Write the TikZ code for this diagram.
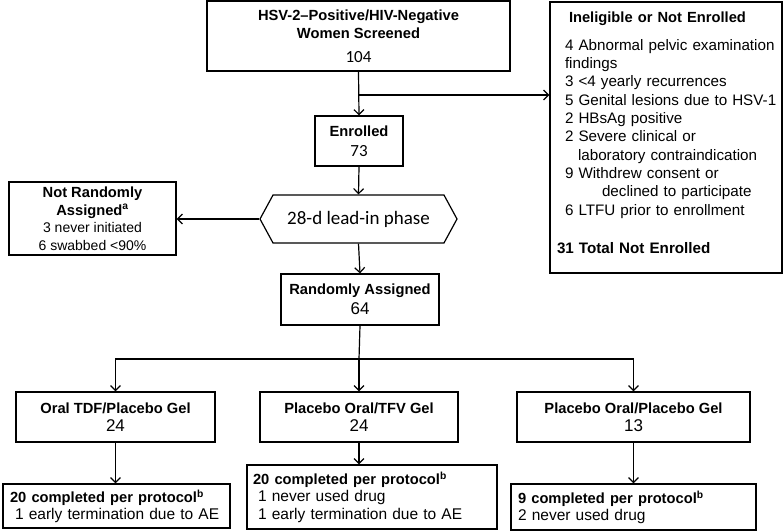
\documentclass[tikz,border=0pt]{standalone}
\usepackage{fontspec}
\setmainfont{Liberation Sans}
\newfontfamily\calib{Carlito}
\usetikzlibrary{calc, shapes.symbols, arrows.meta}

\newcommand{\ttlsize}{\fontsize{14.7}{18}\selectfont}
\newcommand{\numsize}{\fontsize{17}{18}\selectfont}

\tikzset{
	box/.style={draw, line width=1.2pt, inner xsep=7pt, inner ysep=0pt, align=center, font=\ttlsize},
	flow/.style={line width=1.2pt, -{Straight Barb[length=5pt, width=10pt]}},
	plain/.style={line width=1.2pt},
}

\begin{document}
\begin{tikzpicture}[x=1pt, y=-1pt]
	\useasboundingbox (0,0) rectangle (784,532);
	
	\node [box, minimum width=303pt, minimum height=70pt] (screen) at (358.5,36)
		{\textbf{HSV-2–Positive/HIV-Negative}\\\textbf{Women Screened}\\[6pt]{\calib\numsize 104}};
	\node [box, minimum width=88pt, minimum height=50pt] (enrol) at (359,141)
		{\textbf{Enrolled}\\[2pt]{\calib\numsize 73}};
	\node [box, minimum width=232pt, minimum height=271pt, text width=228pt, inner xsep=2pt, align=left,
		font=\fontsize{15.2}{18.3}\selectfont] (inelig) at (666,137.5)
		{\hspace*{17pt}{\ttlsize\bfseries Ineligible or Not Enrolled}\\[10pt]
		\hspace*{13pt}4 Abnormal pelvic examination\\
		\hspace*{13pt}findings\\
		\hspace*{13pt}3 <4 yearly recurrences\\
		\hspace*{13pt}5 Genital lesions due to HSV-1\\
		\hspace*{13pt}2 HBsAg positive\\
		\hspace*{13pt}2 Severe clinical or\\
		\hspace*{26pt}laboratory contraindication\\
		\hspace*{13pt}9 Withdrew consent or\\
		\hspace*{50pt}declined to participate\\
		\hspace*{13pt}6 LTFU prior to enrollment\\[20pt]
		\hspace*{5pt}\textbf{31 Total Not Enrolled}\\[-8pt]\mbox{}};
	
	\node [draw, line width=1.2pt, signal, signal to=west and east, signal pointer angle=123,
		minimum width=197pt, minimum height=48pt, inner sep=0pt, font=\calib\fontsize{19}{20}\selectfont]
		(leadin) at (358.5,219) {28-d lead-in phase};
	\node [box, minimum width=167pt, minimum height=73pt, font=\fontsize{14}{17.5}\selectfont] (notrand) at (92.5,218.5)
		{{\ttlsize\bfseries Not Randomly}\\{\ttlsize\bfseries Assigned\textsuperscript{a}}\\3 never initiated\\6 swabbed <90\%};
	\node [box, minimum width=158pt, minimum height=51pt] (rand) at (360,299.5)
		{\textbf{Randomly Assigned}\\[2pt]{\numsize 64}};
	
	\node [box, minimum width=199pt, minimum height=50pt] (armA) at (115.5,417)
		{\textbf{Oral TDF/Placebo Gel}\\{\numsize 24}};
	\node [box, minimum width=198pt, minimum height=50pt] (armB) at (359,417)
		{\textbf{Placebo Oral/TFV Gel}\\{\numsize 24}};
	\node [box, minimum width=233pt, minimum height=50pt] (armC) at (633.5,417)
		{\textbf{Placebo Oral/Placebo Gel}\\{\numsize 13}};
	
	\node [box, minimum width=227pt, minimum height=44pt, text width=213pt, align=left,
		font=\fontsize{15.5}{17}\selectfont] (outA) at (116.5,506)
		{{\ttlsize\bfseries 20 completed per protocol\textsuperscript{b}}\\\hspace*{5pt}1 early termination due to AE};
	\node [box, minimum width=250pt, minimum height=64pt, text width=238pt, inner xsep=6pt, align=left,
		font=\fontsize{15.5}{17.5}\selectfont] (outB) at (372,497)
		{{\ttlsize\bfseries 20 completed per protocol\textsuperscript{b}}\\\hspace*{5pt}1 never used drug\\\hspace*{5pt}1 early termination due to AE};
	\node [box, minimum width=245pt, minimum height=46pt, text width=231pt, align=left,
		font=\fontsize{15.5}{17}\selectfont] (outC) at (633.5,507)
		{{\ttlsize\bfseries 9 completed per protocol\textsuperscript{b}}\\2 never used drug};
	
	\coordinate (split1) at (359,95);
	\coordinate (split2) at (359,359);
	
	\draw [flow] (screen.south) -- (enrol.north);
	\draw [flow] (split1) -- (split1 -| inelig.west);
	\draw [flow] (enrol.south) -- (leadin.north);
	\draw [flow] (leadin.west) -- (leadin.west -| notrand.east);
	\draw [flow] (leadin.south) -- (rand.north);
	
	\draw [plain] (rand.south) -- (split2);
	\draw [flow] (split2) -| (armA.north);
	\draw [flow] (split2) -- (armB.north);
	\draw [flow] (split2) -| (armC.north);
	
	\draw [flow] (armA.south) -- (armA.south |- outA.north);
	\draw [flow] (armB.south) -- (armB.south |- outB.north);
	\draw [flow] (armC.south) -- (armC.south |- outC.north);
\end{tikzpicture}
\end{document}
